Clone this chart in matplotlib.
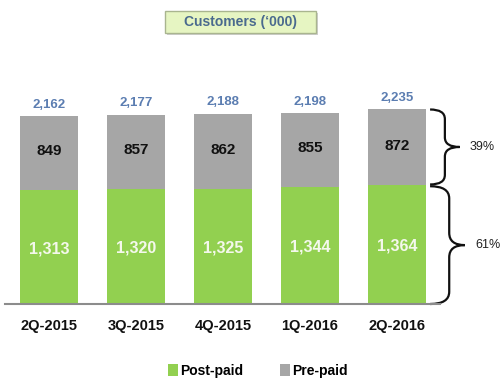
import matplotlib
matplotlib.use('Agg')
import matplotlib.pyplot as plt
from matplotlib.path import Path
from matplotlib.patches import PathPatch, Rectangle

quarters = ['2Q-2015', '3Q-2015', '4Q-2015', '1Q-2016', '2Q-2016']
post_paid = [1313, 1320, 1325, 1344, 1364]
pre_paid = [849, 857, 862, 855, 872]
totals = [2162, 2177, 2188, 2198, 2235]
shares = ['39%', '61%']

GREEN = '#92D050'
GREY = '#A6A6A6'
BLUE = '#5B7DB1'

plt.rcParams['font.family'] = ['Liberation Sans', 'DejaVu Sans']

fig = plt.figure(figsize=(5.01, 3.9), dpi=100)
# axes spans px x 5..440, y 90..304
ax = fig.add_axes([5 / 501, (390 - 304) / 390, 435 / 501, 214 / 390])
ax.set_xlim(-0.506, 4.494)
ax.set_ylim(0, 2460)

x = list(range(len(quarters)))
w = 0.667
ax.bar(x, post_paid, w, color=GREEN, label='Post-paid')
ax.bar(x, pre_paid, w, bottom=post_paid, color=GREY, label='Pre-paid')

for i in x:
    ax.text(i, post_paid[i] / 2 - 20, f'{post_paid[i]:,}', ha='center', va='center',
            color='#F4F8EC', fontsize=11.5, fontweight='bold')
    ax.text(i, post_paid[i] + pre_paid[i] / 2 + 20, f'{pre_paid[i]}', ha='center',
            va='center', color='#111111', fontsize=11, fontweight='bold')
    ax.text(i, totals[i] + 60, f'{totals[i]:,}', ha='center', va='bottom',
            color=BLUE, fontsize=9.5, fontweight='bold')

for s in ['top', 'right', 'left']:
    ax.spines[s].set_visible(False)
ax.spines['bottom'].set_color('#8C8C8C')
ax.spines['bottom'].set_linewidth(1.5)
ax.set_yticks([])
ax.set_xticks(x)
ax.set_xticklabels(quarters, fontsize=10.5, fontweight='bold', color='#111111')
ax.tick_params(axis='x', length=0, pad=11)


def brace(ax, x0, xm, x1, ytop, ybot, r):
    ymid = (ytop + ybot) / 2
    verts = [(x0, ytop), (xm, ytop), (xm, ytop - r),
             (xm, ymid + r), (xm, ymid), (x1, ymid),
             (xm, ymid), (xm, ymid - r),
             (xm, ybot + r), (xm, ybot), (x0, ybot)]
    codes = [Path.MOVETO, Path.CURVE3, Path.CURVE3,
             Path.LINETO, Path.CURVE3, Path.CURVE3,
             Path.CURVE3, Path.CURVE3,
             Path.LINETO, Path.CURVE3, Path.CURVE3]
    ax.add_patch(PathPatch(Path(verts, codes), fill=False, lw=1.6,
                           color='#111111', clip_on=False))
    return ymid


last = len(quarters) - 1
top = post_paid[last] + pre_paid[last]
m1 = brace(ax, 4.38, 4.55, 4.72, top, post_paid[last] + 10, 110)
ax.text(4.98, m1, shares[0], ha='center', va='center', fontsize=9,
        color='#222222', clip_on=False)
m2 = brace(ax, 4.38, 4.60, 4.78, post_paid[last] - 10, 0, 140)
ax.text(5.04, m2, shares[1], ha='center', va='center', fontsize=9,
        color='#222222', clip_on=False)

# title box with a soft shadow
fig.patches.append(Rectangle((167 / 501, 1 - 35 / 390), 151 / 501, 22 / 390,
                             transform=fig.transFigure, fc='#CFCFCF', ec='none', zorder=0))
fig.patches.append(Rectangle((165 / 501, 1 - 33 / 390), 151 / 501, 22 / 390,
                             transform=fig.transFigure, fc='#E6F5C2', ec='#A9B58F',
                             lw=1, zorder=1))
fig.text(240 / 501, 1 - 22 / 390, "Customers (‘000)", ha='center', va='center',
         fontsize=10, fontweight='bold', color='#4A6A8E', zorder=2)

# legend
leg = fig.legend(loc='center', bbox_to_anchor=(258 / 501, 1 - 371 / 390), ncol=2,
                 frameon=False, handlelength=0.7, handleheight=1.0,
                 handletextpad=0.2, columnspacing=2.6,
                 prop={'weight': 'bold', 'size': 10})

fig.savefig('out.png', dpi=100)
